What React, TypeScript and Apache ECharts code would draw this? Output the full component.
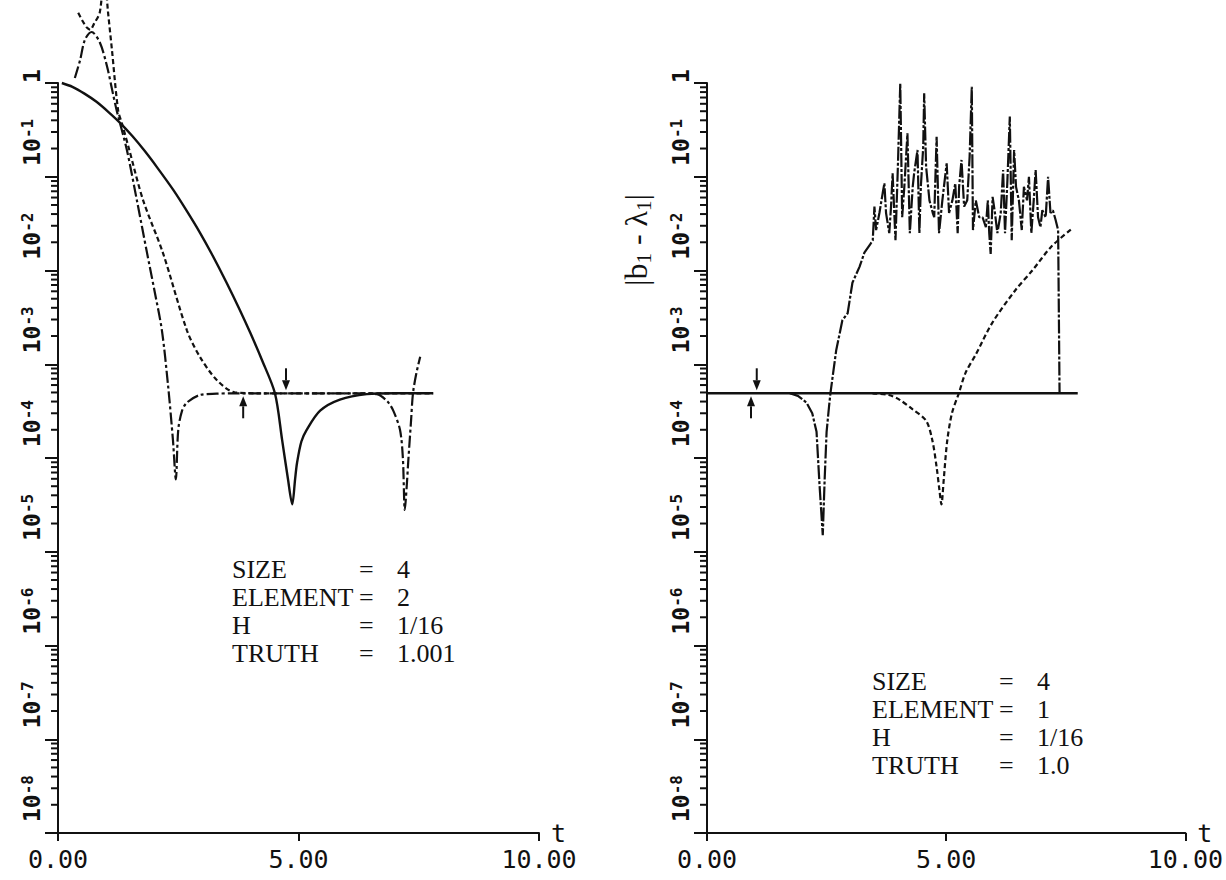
import React, { useEffect, useRef } from "react";
import * as echarts from "echarts";

// ---------- data (t, |b - lambda|) ----------
const PLATEAU = 4.9e-4;

const leftSolid: [number, number][] = [
  [0.08, 1], [0.3, 0.91], [0.55, 0.77], [0.8, 0.63], [1.05, 0.49], [1.29, 0.376], [1.55, 0.27],
  [1.8, 0.189], [2.06, 0.126], [2.4, 0.072], [2.68, 4.3e-2], [2.95, 2.54e-2], [3.2, 1.49e-2],
  [3.5, 7.5e-3], [3.78, 3.8e-3], [4.0, 2.15e-3], [4.24, 1.11e-3], [4.51, 4.9e-4], [4.66, 1.55e-4],
  [4.78, 6e-5], [4.87, 3.2e-5], [4.93, 6e-5], [4.97, 8.9e-5], [5.06, 1.5e-4], [5.17, 2e-4],
  [5.45, 3.2e-4], [5.86, 4.2e-4], [6.42, 4.8e-4], [7.0, 4.9e-4], [7.8, 4.9e-4],
];

const leftDashDot: [number, number][] = [
  [0.35, 1.13], [0.46, 1.76], [0.56, 2.9], [0.7, 3.5], [0.87, 2.7], [1.02, 1.5], [1.14, 0.78],
  [1.22, 0.51], [1.43, 0.195], [1.64, 5.6e-2], [1.85, 1.55e-2], [2.0, 6.3e-3], [2.16, 2.3e-3],
  [2.29, 5.8e-4], [2.39, 1.55e-4], [2.45, 5.9e-5], [2.5, 2e-4], [2.58, 3.2e-4], [2.68, 3.9e-4],
  [2.95, 4.7e-4], [3.3, 4.85e-4], [3.64, 4.9e-4], [6.3, 4.9e-4], [6.63, 4.8e-4], [6.85, 4e-4],
  [6.97, 3.2e-4], [7.11, 2e-4], [7.17, 1e-4], [7.21, 2.8e-5], [7.25, 5e-5], [7.28, 8.9e-5],
  [7.34, 2.5e-4], [7.38, 4.9e-4], [7.45, 8e-4], [7.53, 1.2e-3],
];

const leftDotted: [number, number][] = [
  [0.42, 5.6], [0.52, 4.5], [0.6, 3.9], [0.67, 3.7], [0.75, 4.3], [0.87, 5.7], [0.96, 15],
  [1.04, 5.7], [1.12, 2.3], [1.25, 0.51], [1.33, 0.37], [1.48, 0.195], [1.77, 5.6e-2],
  [2.18, 1.55e-2], [2.68, 2.3e-3], [2.95, 1.2e-3], [3.3, 6.8e-4], [3.68, 5e-4], [4.2, 4.9e-4], [7.8, 4.9e-4],
];

const rightSolid: [number, number][] = [[0, 4.9e-4], [7.75, 4.9e-4]];

const rightDashDot: [number, number][] = [
  [1.73, 4.9e-4], [1.9, 4.6e-4], [2.08, 3.9e-4], [2.2, 3e-4], [2.29, 1.9e-4], [2.35, 5.4e-5],
  [2.42, 1.5e-5], [2.46, 6e-5], [2.5, 1.9e-4], [2.55, 3.5e-4], [2.58, 4.9e-4], [2.7, 1.4e-3],
  [2.83, 2.95e-3], [2.94, 3.5e-3], [3.04, 7.4e-3], [3.19, 1.1e-2], [3.29, 1.55e-2], [3.4, 1.86e-2],
  [3.465, 2.1e-2], [3.5, 4.8e-2], [3.535, 2.7e-2], [3.604, 4.1e-2], [3.673, 6.7e-2], [3.708, 8.5e-2],
  [3.743, 4.1e-2], [3.81, 2.5e-2], [3.847, 4.8e-2], [3.88, 0.109], [3.94, 2.1e-2], [3.99, 0.128],
  [4.04, 0.99], [4.08, 3.7e-2], [4.125, 7.8e-2], [4.19, 0.29], [4.24, 2.5e-2], [4.3, 7.8e-2],
  [4.33, 0.109], [4.37, 0.151], [4.4, 0.193], [4.44, 2.5e-2], [4.47, 7.8e-2], [4.52, 0.209],
  [4.54, 0.776], [4.58, 0.128], [4.65, 5.6e-2], [4.72, 4.1e-2], [4.75, 3.7e-2], [4.8, 0.267],
  [4.85, 2.5e-2], [4.92, 5.6e-2], [5.01, 0.139], [5.06, 4.1e-2], [5.13, 5.6e-2], [5.19, 8.5e-2],
  [5.24, 2.5e-2], [5.27, 7.8e-2], [5.32, 0.151], [5.375, 4.8e-2], [5.44, 5.6e-2], [5.49, 0.164],
  [5.535, 0.91], [5.56, 2.7e-2], [5.62, 5.6e-2], [5.69, 3.7e-2], [5.76, 3.7e-2], [5.83, 2.9e-2],
  [5.87, 5.6e-2], [5.9, 2.5e-2], [5.93, 1.5e-2], [5.97, 6.1e-2], [6.02, 4.1e-2], [6.07, 2.5e-2],
  [6.14, 4.1e-2], [6.19, 0.118], [6.23, 2.5e-2], [6.28, 9.2e-2], [6.33, 0.44], [6.37, 2.1e-2],
  [6.42, 0.193], [6.46, 7.8e-2], [6.52, 5.6e-2], [6.58, 2.7e-2], [6.625, 7.8e-2], [6.69, 5.6e-2],
  [6.73, 0.1], [6.78, 2.5e-2], [6.83, 5.6e-2], [6.87, 0.118], [6.92, 3.7e-2], [6.97, 2.9e-2],
  [7.01, 4.4e-2], [7.08, 3.7e-2], [7.13, 0.1], [7.18, 4.1e-2], [7.23, 4.4e-2], [7.285, 3.5e-2],
  [7.34, 2.7e-2], [7.37, 4.9e-4],
];

const rightDashed: [number, number][] = [
  [3.46, 4.9e-4], [3.8, 4.7e-4], [4.02, 4.2e-4], [4.3, 3.3e-4], [4.58, 2.5e-4], [4.71, 1.55e-4],
  [4.8, 8e-5], [4.86, 4.5e-5], [4.9, 3.2e-5], [4.95, 6e-5], [5.02, 1.5e-4], [5.12, 3e-4],
  [5.27, 5e-4], [5.4, 8e-4], [5.63, 1.3e-3], [5.96, 2.75e-3], [6.45, 6.2e-3], [6.8, 1e-2],
  [7.2, 1.8e-2], [7.63, 2.8e-2],
];

// arrows: [t, value at tip, direction (1 = pointing down, -1 = pointing up)]
const leftArrows: [number, number, number][] = [[4.74, PLATEAU, 1], [3.85, PLATEAU, -1]];
const rightArrows: [number, number, number][] = [[1.04, PLATEAU, 1], [0.92, PLATEAU, -1]];

const infoNames = ["SIZE", "ELEMENT", "H", "TRUTH"];
const leftInfoValues = ["4", "2", "1/16", "1.001"];
const rightInfoValues = ["4", "1", "1/16", "1.0"];

const minorMultipliers = [2, 3, 4, 5, 6, 7, 8, 9];
const decades = [-8, -7, -6, -5, -4, -3, -2, -1];

const INK = "#111";
const MONO = "DejaVu Sans Mono";
const SERIF = "Liberation Serif";

export default function App() {
  const ref = useRef<HTMLDivElement>(null);

  useEffect(() => {
    if (!ref.current) return;
    const chart = echarts.init(ref.current, undefined, { renderer: "svg" });

    const minorTickValues: [number, number][] = [];
    decades.forEach((d) => minorMultipliers.forEach((m) => minorTickValues.push([0, m * Math.pow(10, d)])));

    const grids = [
      { left: 58, top: 83, width: 481, height: 750 },
      { left: 707, top: 83, width: 480, height: 750 },
    ];

    const xAxis = (gi: number) => ({
      type: "value",
      gridIndex: gi,
      min: 0,
      max: 10,
      interval: 5,
      axisLine: { show: true, onZero: false, lineStyle: { color: INK, width: 2 } },
      axisTick: { show: true, inside: false, length: 8, lineStyle: { color: INK, width: 2 } },
      axisLabel: {
        margin: 14,
        color: INK,
        fontFamily: MONO,
        fontSize: 25,
        formatter: (v: number) => v.toFixed(2),
      },
      splitLine: { show: false },
      name: "t",
      nameLocation: "end",
      nameGap: 12,
      nameTextStyle: { fontFamily: MONO, fontSize: 25, color: INK, padding: [16, 0, 0, 0] },
    });

    const yAxis = (gi: number) => ({
      type: "log",
      logBase: 10,
      gridIndex: gi,
      min: 1e-8,
      max: 1,
      splitNumber: 8,
      axisLine: { show: true, onZero: false, lineStyle: { color: INK, width: 2 } },
      axisTick: { show: true, inside: false, length: 13, lineStyle: { color: INK, width: 2 } },
      minorTick: { show: false },
      splitLine: { show: false },
      axisLabel: {
        rotate: 90,
        align: "left",
        verticalAlign: "bottom",
        margin: 15,
        color: INK,
        fontFamily: MONO,
        fontSize: 23,
        formatter: (v: number) => {
          const e = Math.round(Math.log10(v));
          if (e === 0) return "{one|1}";
          return "{b|10}{s|" + e + "}";
        },
        rich: {
          one: { fontFamily: MONO, fontSize: 23, fontWeight: "bold", lineHeight: 24, color: INK, verticalAlign: "bottom" },
          b: { fontFamily: MONO, fontSize: 23, fontWeight: "bold", lineHeight: 24, color: INK, verticalAlign: "bottom", padding: [0, 0, 0, 11] },
          s: { fontFamily: MONO, fontSize: 16, fontWeight: "bold", lineHeight: 17, color: INK, verticalAlign: "top", padding: [0, 0, 11, 0] },
        },
      },
    });

    const lineSeries = (gi: number, data: [number, number][], type: any, width: number) => ({
      type: "line",
      xAxisIndex: gi,
      yAxisIndex: gi,
      data,
      symbol: "none",
      showSymbol: false,
      clip: false,
      smooth: 0.3,
      silent: true,
      lineStyle: { color: INK, width, type },
    });

    const minorTickSeries = (gi: number) => ({
      type: "custom",
      xAxisIndex: gi,
      yAxisIndex: gi,
      clip: false,
      silent: true,
      data: minorTickValues,
      renderItem: (_p: any, api: any) => {
        const p = api.coord([api.value(0), api.value(1)]);
        return {
          type: "line",
          shape: { x1: p[0] - 7, y1: p[1], x2: p[0], y2: p[1] },
          style: { stroke: INK, lineWidth: 2 },
        };
      },
    });

    const arrowSeries = (gi: number, data: [number, number, number][]) => ({
      type: "custom",
      xAxisIndex: gi,
      yAxisIndex: gi,
      clip: false,
      silent: true,
      data,
      renderItem: (_p: any, api: any) => {
        const p = api.coord([api.value(0), api.value(1)]);
        const d = api.value(2);
        const tipY = p[1] - d * 3;
        const headY = tipY - d * 10;
        const tailY = p[1] - d * 25;
        return {
          type: "group",
          children: [
            { type: "line", shape: { x1: p[0], y1: tailY, x2: p[0], y2: headY }, style: { stroke: INK, lineWidth: 2 } },
            {
              type: "polygon",
              shape: { points: [[p[0] - 4, headY], [p[0] + 4, headY], [p[0], tipY]] },
              style: { fill: INK },
            },
          ],
        };
      },
    });

    const DOT = [5, 3];
    const DASHDOT = [12, 3, 3, 3];

    const infoBlock = (x: number, y: number, values: string[]) => {
      const children: any[] = [];
      infoNames.forEach((n, i) => {
        const by = y + i * 28;
        const st = { fontFamily: SERIF, fontSize: 26, fill: INK, textVerticalAlign: "bottom" };
        children.push({ type: "text", x, y: by, style: { ...st, text: n } });
        children.push({ type: "text", x: x + 127, y: by, style: { ...st, text: "=" } });
        children.push({ type: "text", x: x + 165, y: by, style: { ...st, text: values[i] } });
      });
      return { type: "group", children };
    };

    chart.setOption({
      animation: false,
      backgroundColor: "#fff",
      grid: grids,
      xAxis: [xAxis(0), xAxis(1)],
      yAxis: [yAxis(0), yAxis(1)],
      series: [
        minorTickSeries(0),
        minorTickSeries(1),
        lineSeries(0, leftSolid, "solid", 2.4),
        lineSeries(0, leftDashDot, DASHDOT, 2.2),
        lineSeries(0, leftDotted, DOT, 2.2),
        lineSeries(1, rightSolid, "solid", 2.6),
        { ...lineSeries(1, rightDashDot, [14, 2, 3, 2], 2.2), smooth: false },
        lineSeries(1, rightDashed, DOT, 2.2),
        arrowSeries(0, leftArrows),
        arrowSeries(1, rightArrows),
      ],
      graphic: [
        infoBlock(232, 582, leftInfoValues),
        infoBlock(872, 694, rightInfoValues),
        {
          type: "text",
          x: 654,
          y: 240,
          rotation: Math.PI / 2,
          style: {
            text: "{t||b}{sub|1}{t| - λ}{sub|1}{t||}",
            textAlign: "center",
            textVerticalAlign: "bottom",
            rich: {
              t: { fontFamily: SERIF, fontSize: 32, lineHeight: 34, fill: INK, verticalAlign: "top" },
              sub: { fontFamily: SERIF, fontSize: 21, lineHeight: 22, fill: INK, verticalAlign: "bottom", padding: [14, 0, 0, 0] },
            },
          },
        },
      ],
    });

    return () => chart.dispose();
  }, []);

  return (
    <div
      ref={ref}
      style={{ position: "fixed", left: 0, top: 0, width: 1226, height: 880, background: "#fff" }}
    />
  );
}
